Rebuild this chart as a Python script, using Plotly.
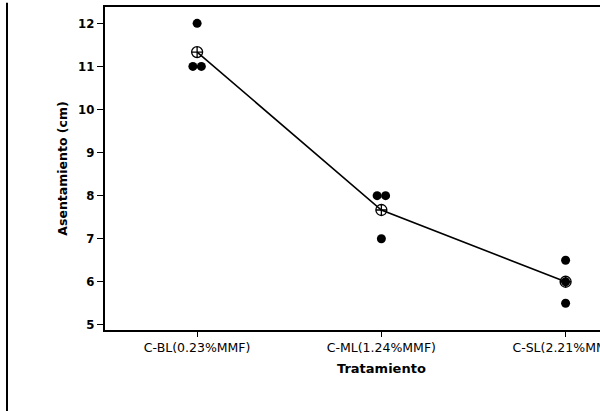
import plotly.graph_objects as go

# Settlement (slump) per treatment, three specimens each
tratamientos = ["C-BL(0.23%MMF)", "C-ML(1.24%MMF)", "C-SL(2.21%MMF)"]
asentamiento_cbl = [12, 11, 11]
asentamiento_cml = [8, 8, 7]
asentamiento_csl = [6.5, 6, 5.5]
y_ticks = [5, 6, 7, 8, 9, 10, 11, 12]

grupos = [asentamiento_cbl, asentamiento_cml, asentamiento_csl]

FONT = "DejaVu Sans"
FONT_C = "DejaVu Sans Condensed"
DODGE = 0.023  # half-step used to separate repeated values side by side

# individual points, repeated values spread horizontally
px, py = [], []
for i, vals in enumerate(grupos):
    counts = {}
    for v in vals:
        counts[v] = counts.get(v, 0) + 1
    seen = {}
    for v in vals:
        n = counts[v]
        k = seen.get(v, 0)
        seen[v] = k + 1
        off = (k - (n - 1) / 2) * 2 * DODGE if n > 1 else 0
        px.append(i + off)
        py.append(v)

medias = [sum(v) / len(v) for v in grupos]

fig = go.Figure()
fig.add_trace(go.Scatter(
    x=list(range(len(tratamientos))), y=medias, mode="lines+markers",
    line=dict(color="black", width=1.6),
    marker=dict(symbol="circle-cross-open", size=11, color="black",
                line=dict(width=1.3, color="black")),
    showlegend=False,
))
fig.add_trace(go.Scatter(
    x=px, y=py, mode="markers",
    marker=dict(symbol="circle", size=9, color="black"),
    showlegend=False,
))

# outer frame line on the left
fig.add_shape(type="line", xref="paper", yref="paper",
              x0=-98 / 495, x1=-98 / 495, y0=-403 / 323, y1=1.013,
              line=dict(color="black", width=2))

# x-axis title, centred under the middle treatment
fig.add_annotation(
    text="<b>Tratamiento</b>", xref="x", yref="paper",
    x=1, y=-38 / 323, xanchor="center", yanchor="middle",
    showarrow=False, font=dict(family=FONT, size=13, color="black"),
)

fig.update_layout(
    width=600, height=411,
    margin=dict(l=105, r=0, t=7, b=81, autoexpand=False),
    paper_bgcolor="white", plot_bgcolor="white",
    font=dict(family=FONT, color="black"),
)
fig.update_xaxes(
    range=[-0.5, (600 - 197) / 184.3],
    tickvals=list(range(len(tratamientos))), ticktext=tratamientos,
    tickfont=dict(family=FONT, size=12.5),
    ticklabeloverflow="allow", automargin=False,
    ticks="outside", ticklen=5, tickwidth=1.2, tickcolor="black",
    showline=True, linecolor="black", linewidth=2, mirror=True,
    showgrid=False, zeroline=False,
)
fig.update_yaxes(
    range=[4.88, 12.38],
    tickvals=y_ticks, automargin=False,
    tickfont=dict(family=FONT_C, size=13, weight="bold"),
    ticks="outside", ticklen=6, tickwidth=1.2, tickcolor="black",
    showline=True, linecolor="black", linewidth=2, mirror=False,
    showgrid=False, zeroline=False,
    title=dict(text="<b>Asentamiento (cm)</b>", font=dict(family=FONT, size=12.5), standoff=8),
)

fig.write_html("out.html")
